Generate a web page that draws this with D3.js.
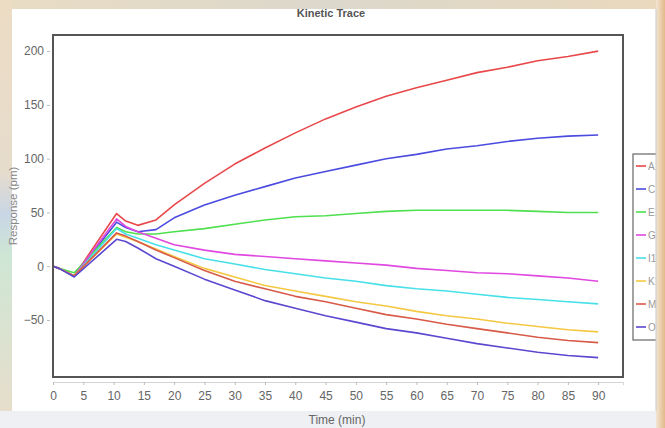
<!DOCTYPE html>
<html>
<head>
<meta charset="utf-8">
<script src="https://cdn.jsdelivr.net/npm/d3@7"></script>
<style>
  body { margin: 0; background: #fff; }
  svg { display: block; font-family: 'Liberation Sans', Arial, sans-serif; }
</style>
</head>
<body>
<svg id="chart"></svg>
<script>
// time points (min) and traces
const times = [0, 1, 3.5, 10.5, 12, 14, 17, 20, 25, 30, 35, 40, 45, 50, 55, 60, 65, 70, 75, 80, 85, 90]

const seriesNames = ['A1', 'C1', 'E1', 'G1', 'I1', 'K1', 'M1', 'O1']
const seriesColors = ['#e8484a', '#4b4be0', '#4ee04e', '#e048e0', '#48e0e8', '#f5c842', '#d85a48', '#5a48d0']

const a1 = [0, -2, -9, 49, 42, 38, 43, 57, 77, 95, 110, 124, 137, 148, 158, 166, 173, 180, 185, 191, 195, 200]
const c1 = [0, -2, -9, 41, 36, 32, 34, 45, 57, 66, 74, 82, 88, 94, 100, 104, 109, 112, 116, 119, 121, 122]
const e1 = [0, -2, -6, 36, 32, 30, 30, 32, 35, 39, 43, 46, 47, 49, 51, 52, 52, 52, 52, 51, 50, 50]
const g1 = [0, -2, -9, 44, 37, 32, 26, 20, 15, 11, 9, 7, 5, 3, 1, -2, -4, -6, -7, -9, -11, -14]
const i1 = [0, -2, -9, 35, 30, 26, 20, 15, 7, 2, -3, -7, -11, -14, -18, -21, -23, -26, -29, -31, -33, -35]
const k1 = [0, -2, -9, 30, 27, 23, 16, 9, -2, -10, -18, -23, -28, -33, -37, -42, -46, -49, -53, -56, -59, -61]
const m1 = [0, -2, -9, 31, 28, 23, 15, 8, -4, -14, -21, -28, -33, -39, -45, -49, -54, -58, -62, -66, -69, -71]
const o1 = [0, -2, -10, 25, 23, 17, 7, 0, -12, -22, -32, -39, -46, -52, -58, -62, -67, -72, -76, -80, -83, -85]

const seriesValues = [a1, c1, e1, g1, i1, k1, m1, o1]

const xTicks = d3.range(0, 95, 5)
const yTicks = [-50, 0, 50, 100, 150, 200]

const width = 665,
  height = 428

const svg = d3.select('#chart')
  .attr('width', width)
  .attr('height', height)

// photographed-screen backdrop
const defs = svg.append('defs')
const topGrad = defs.append('linearGradient').attr('id', 'topGrad')
topGrad.append('stop').attr('offset', '0%').attr('stop-color', '#e9dcc4')
topGrad.append('stop').attr('offset', '50%').attr('stop-color', '#dcd8cc')
topGrad.append('stop').attr('offset', '100%').attr('stop-color', '#ead9bd')
const leftGrad = defs.append('linearGradient').attr('id', 'leftGrad').attr('x1', 0).attr('y1', 0).attr('x2', 0).attr('y2', 1)
leftGrad.append('stop').attr('offset', '0%').attr('stop-color', '#ecdcc4')
leftGrad.append('stop').attr('offset', '40%').attr('stop-color', '#e6dccc')
leftGrad.append('stop').attr('offset', '50%').attr('stop-color', '#c9d6e6')
leftGrad.append('stop').attr('offset', '60%').attr('stop-color', '#cfe6d4')
leftGrad.append('stop').attr('offset', '100%').attr('stop-color', '#e9dccb')
const rightGrad = defs.append('linearGradient').attr('id', 'rightGrad')
rightGrad.append('stop').attr('offset', '0%').attr('stop-color', '#f3e6d2')
rightGrad.append('stop').attr('offset', '100%').attr('stop-color', '#e2b98a')

svg.append('rect').attr('width', width).attr('height', height).attr('fill', '#ffffff')
svg.append('rect').attr('width', width).attr('height', 9).attr('fill', 'url(#topGrad)')
svg.append('rect').attr('width', 12).attr('height', height).attr('fill', 'url(#leftGrad)')
svg.append('rect').attr('y', 411).attr('width', width).attr('height', 17).attr('fill', '#eef0f3')

const x = d3.scaleLinear()
  .domain([0, 94.1])
  .range([53, 623])

const y = d3.scaleLinear()
  .domain([-103, 215])
  .range([377, 35])

// title
svg.append('text')
  .attr('x', 331)
  .attr('y', 17)
  .attr('text-anchor', 'middle')
  .attr('font-size', 11)
  .attr('font-weight', 'bold')
  .attr('fill', '#555')
  .text('Kinetic Trace')

// axes
const xAxis = svg.append('g')
  .attr('transform', 'translate(0,382)')
  .call(d3.axisBottom(x).tickValues(xTicks).tickSize(3).tickPadding(4).tickFormat(d3.format('d')))
xAxis.select('.domain').attr('stroke', '#d4d4d4')
xAxis.selectAll('.tick line').attr('stroke', '#bbb')
xAxis.selectAll('text').attr('fill', '#666').attr('font-size', 12).attr('dy', '0.9em')

const yAxis = svg.append('g')
  .attr('transform', 'translate(50,0)')
  .call(d3.axisLeft(y).tickValues(yTicks).tickSize(3).tickPadding(3))
yAxis.select('.domain').remove()
yAxis.selectAll('.tick line').attr('stroke', '#bbb')
yAxis.selectAll('text').attr('fill', '#666').attr('font-size', 12)

svg.append('text')
  .attr('transform', 'translate(17,206) rotate(-90)')
  .attr('text-anchor', 'middle')
  .attr('font-size', 11.5)
  .attr('fill', '#888')
  .text('Response (pm)')

svg.append('text')
  .attr('x', 337)
  .attr('y', 424)
  .attr('text-anchor', 'middle')
  .attr('font-size', 12)
  .attr('fill', '#666')
  .text('Time (min)')

// traces
const line = d3.line()
  .x((d, i) => x(times[i]))
  .y(d => y(d))

svg.append('g')
  .selectAll('path')
  .data(seriesValues)
  .enter().append('path')
  .attr('d', line)
  .attr('fill', 'none')
  .attr('stroke', (d, i) => seriesColors[i])
  .attr('stroke-width', 1.6)
  .attr('stroke-linejoin', 'round')

// plot frame
svg.append('rect')
  .attr('x', 53)
  .attr('y', 35)
  .attr('width', 570)
  .attr('height', 342)
  .attr('fill', 'none')
  .attr('stroke', '#555')
  .attr('stroke-width', 2)

// legend (runs off the right edge as in the picture)
const legend = svg.append('g')
  .attr('transform', 'translate(633,154)')

legend.append('rect')
  .attr('width', 40)
  .attr('height', 186)
  .attr('fill', '#fff')
  .attr('stroke', '#666')
  .attr('stroke-width', 1.2)

const items = legend.selectAll('.item')
  .data(seriesNames)
  .enter().append('g')
  .attr('class', 'item')
  .attr('transform', (d, i) => `translate(0,${12 + i * 23})`)

items.append('line')
  .attr('x1', 3)
  .attr('x2', 13)
  .attr('stroke', (d, i) => seriesColors[i])
  .attr('stroke-width', 1.6)

items.append('text')
  .attr('x', 15)
  .attr('dy', '0.35em')
  .attr('font-size', 10)
  .attr('fill', '#999')
  .text(d => d)

// right edge of the photo covers the end of the legend
svg.append('rect').attr('x', 656).attr('width', 9).attr('height', height).attr('fill', 'url(#rightGrad)')
svg.append('line').attr('x1', 656).attr('x2', 656).attr('y1', 9).attr('y2', 411)
  .attr('stroke', '#c9c9c9').attr('stroke-width', 1)
</script>
</body>
</html>
